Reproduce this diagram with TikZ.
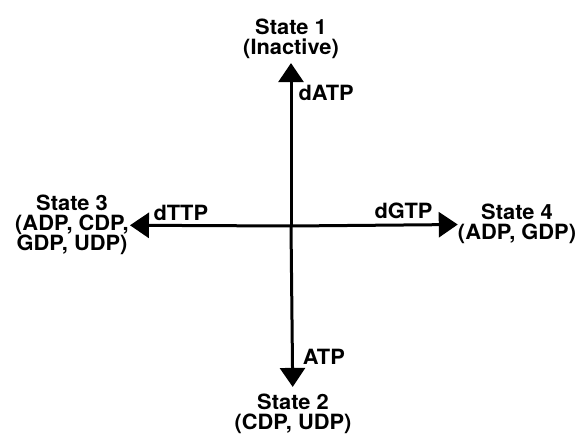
\documentclass[tikz,border=0pt]{standalone}
\usepackage{fontspec}
\setmainfont{TeX Gyre Heros}[FakeStretch=1.04]
\usetikzlibrary{arrows.meta}

\begin{document}
\begin{tikzpicture}[
    x=1pt, y=-1pt,
    state/.style={
        align=center,
        inner sep=0pt,
        font=\bfseries\fontsize{21}{20}\selectfont
    },
    lbl/.style={
        inner sep=0pt,
        font=\bfseries\fontsize{21}{20}\selectfont
    },
    arrow/.style={-{Triangle[length=19pt,width=25pt]}, line width=3pt}
]
\useasboundingbox (0,0) rectangle (581,438);

% centre of the cross
\coordinate (c) at (291,226);

% states
\node[state] (s1) at (291,39) {State 1\\(Inactive)};
\node[state] (s2) at (293,414) {State 2\\(CDP, UDP)};
\node[state] (s3) at (72,225) {State 3\\(ADP, CDP,\\GDP, UDP)};
\node[state] (s4) at (517,224) {State 4\\(ADP, GDP)};

% arrows
\draw[arrow, shorten >=4pt] (c) -- (s1)
    node[lbl, pos=0.8, anchor=west, xshift=6pt] {dATP};
\draw[arrow, shorten >=7pt] (c) -- (s2)
    node[lbl, pos=0.78, anchor=west, xshift=9pt] {ATP};
\draw[arrow, shorten >=1pt] (c) -- (s3)
    node[lbl, pos=0.68, anchor=south, yshift=3pt] {dTTP};
\draw[arrow, shorten >=0pt] (c) -- (s4)
    node[lbl, pos=0.675, anchor=south, yshift=5pt] {dGTP};

\end{tikzpicture}
\end{document}
